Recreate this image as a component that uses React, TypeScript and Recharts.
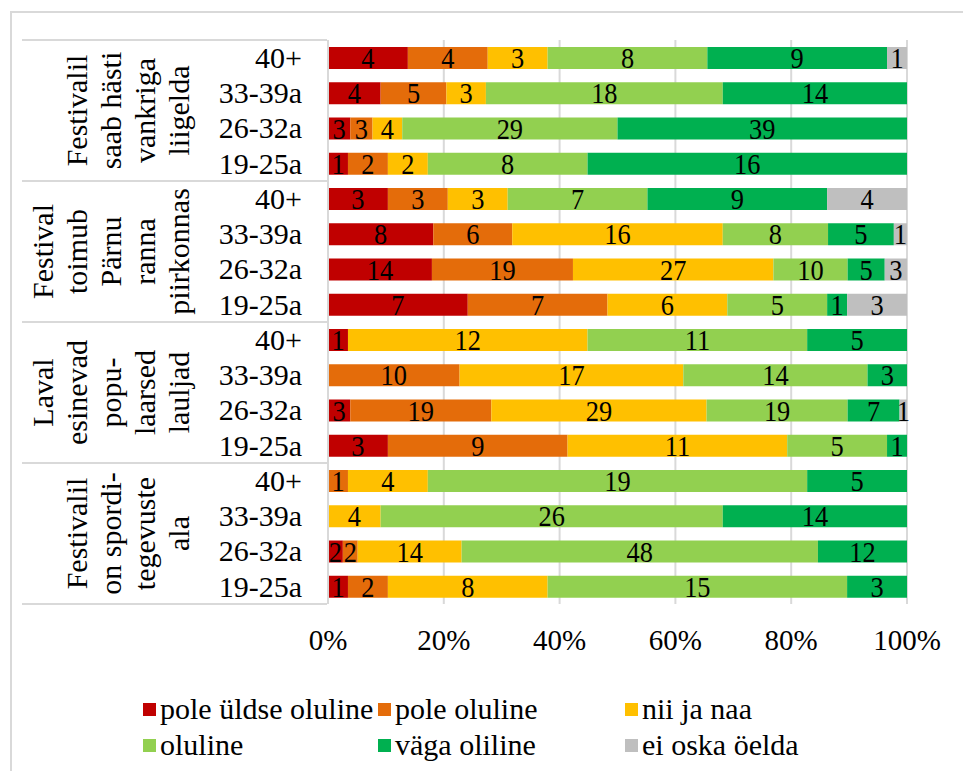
import React from 'react';
import { BarChart, Bar, XAxis, YAxis, CartesianGrid, LabelList } from 'recharts';

// age groups inside each statement, top to bottom
const ageGroups = ['40+', '33-39a', '26-32a', '19-25a'];

// statements (already broken into lines as in the original)
const statements = [
  ['Festivalil', 'saab hästi', 'vankriga', 'liigelda'],
  ['Festival', 'toimub', 'Pärnu', 'ranna', 'piirkonnas'],
  ['Laval', 'esinevad', 'popu-', 'laarsed', 'lauljad'],
  ['Festivalil', 'on spordi-', 'tegevuste', 'ala'],
];

const answers = ['pole üldse oluline', 'pole oluline', 'nii ja naa', 'oluline', 'väga oliline', 'ei oska öelda'];
const colors = ['#C00000', '#E46C0A', '#FFC000', '#92D050', '#00B050', '#BFBFBF'];

// counts per row, top to bottom (4 statements x 4 age groups)
const poleYldseOluline = [4, 4, 3, 1, 3, 8, 14, 7, 1, 0, 3, 3, 0, 0, 2, 1];
const poleOluline = [4, 5, 3, 2, 3, 6, 19, 7, 0, 10, 19, 9, 1, 0, 2, 2];
const niiJaNaa = [3, 3, 4, 2, 3, 16, 27, 6, 12, 17, 29, 11, 4, 4, 14, 8];
const oluline = [8, 18, 29, 8, 7, 8, 10, 5, 11, 14, 19, 5, 19, 26, 48, 15];
const vagaOliline = [9, 14, 39, 16, 9, 5, 5, 1, 5, 3, 7, 1, 5, 14, 12, 3];
const eiOskaOelda = [1, 0, 0, 0, 4, 1, 3, 3, 0, 0, 1, 0, 0, 0, 0, 0];

const xTicks = [0, 0.2, 0.4, 0.6, 0.8, 1];

const seriesValues = [poleYldseOluline, poleOluline, niiJaNaa, oluline, vagaOliline, eiOskaOelda];
const keys = answers.map((_, i) => `s${i}`);

const data = statements.flatMap((_, g) =>
  ageGroups.map((age, a) => {
    const i = g * ageGroups.length + a;
    const row: Record<string, any> = { row: `r${i}`, age, group: g, ageIdx: a };
    keys.forEach((k, s) => (row[k] = seriesValues[s][i]));
    return row;
  })
);

const W = 963;
const H = 771;
const TOP = 40;
const BOTTOM = 604;
const STEP = (BOTTOM - TOP) / data.length;
const FONT = '"Liberation Serif", "Times New Roman", serif';
const GRID = '#D9D9D9';

const RowTick = (props: any) => {
  const { x, y, payload } = props;
  const d = data.find((r) => r.row === payload.value);
  if (!d) return null;
  const lines = statements[d.group];
  const n = lines.length;
  return (
    <g>
      <text x={x} y={y} dy="0.34em" textAnchor="end" fontSize={30} fontFamily={FONT} fill="#000">
        {d.age}
      </text>
      {d.ageIdx === 0 && (
        <>
          <line x1={22} x2={327} y1={y - STEP / 2} y2={y - STEP / 2} stroke={GRID} strokeWidth={2} />
          <text
            transform={`translate(178, ${y + STEP * 1.5}) rotate(-90)`}
            textAnchor="middle"
            dominantBaseline="central"
            fontSize={30}
            fontFamily={FONT}
            fill="#000"
          >
            {lines.map((ln, k) => (
              <tspan key={k} x={0} y={-(n - 1 - k) * 34}>
                {ln}
              </tspan>
            ))}
          </text>
        </>
      )}
      {d.row === data[data.length - 1].row && (
        <line x1={22} x2={327} y1={y + STEP / 2} y2={y + STEP / 2} stroke={GRID} strokeWidth={2} />
      )}
    </g>
  );
};

const BarValue = (props: any) => {
  const { x, y, width, height, value } = props;
  if (!value) return null;
  const cx = x + width / 2;
  const cy = y + height / 2;
  return (
    <text
      transform={`translate(${cx}, ${cy}) scale(0.88, 1)`}
      dy="0.34em"
      textAnchor="middle"
      fontSize={30}
      fontFamily={FONT}
      fill="#000"
    >
      {value}
    </text>
  );
};

const legendCols = [143, 378, 625];
const legendRows = [709, 745];

export default function App() {
  return (
    <div style={{ position: 'absolute', left: 0, top: 0, width: W, height: H, overflow: 'hidden', background: '#fff' }}>
      <div
        style={{
          position: 'absolute',
          left: 10,
          top: 11,
          width: 1000,
          height: 800,
          borderTop: `2px solid ${GRID}`,
          borderLeft: `2px solid ${GRID}`,
        }}
      />
      <div style={{ position: 'absolute', left: 0, top: 0 }}>
        <BarChart
          width={W}
          height={H}
          data={data}
          layout="vertical"
          stackOffset="expand"
          margin={{ top: TOP, right: 56, bottom: H - BOTTOM - 40, left: 0 }}
        >
          <CartesianGrid horizontal={false} stroke={GRID} strokeWidth={2} />
          <XAxis
            type="number"
            domain={[0, 1]}
            ticks={xTicks}
            tickFormatter={(v: number) => `${Math.round(v * 100)}%`}
            axisLine={false}
            tickLine={false}
            tickSize={0}
            tickMargin={25}
            height={40}
            tick={{ fontSize: 29, fontFamily: FONT, fill: '#000' }}
            interval={0}
          />
          <YAxis
            type="category"
            dataKey="row"
            width={328}
            axisLine={{ stroke: GRID, strokeWidth: 2 }}
            tickLine={false}
            tickSize={0}
            tickMargin={26}
            interval={0}
            tick={<RowTick />}
          />
          {keys.map((k, s) => (
            <Bar key={k} dataKey={k} stackId="a" fill={colors[s]} barSize={22} isAnimationActive={false}>
              <LabelList dataKey={k} content={<BarValue />} />
            </Bar>
          ))}
        </BarChart>
      </div>
      {answers.map((name, i) => (
        <div
          key={name}
          style={{
            position: 'absolute',
            left: legendCols[i % 3],
            top: legendRows[Math.floor(i / 3)] - 17,
            height: 34,
            display: 'flex',
            alignItems: 'center',
            fontFamily: FONT,
            fontSize: 30,
            color: '#000',
            whiteSpace: 'nowrap',
          }}
        >
          <span style={{ display: 'inline-block', width: 13, height: 13, background: colors[i], marginRight: 4 }} />
          {name}
        </div>
      ))}
    </div>
  );
}
